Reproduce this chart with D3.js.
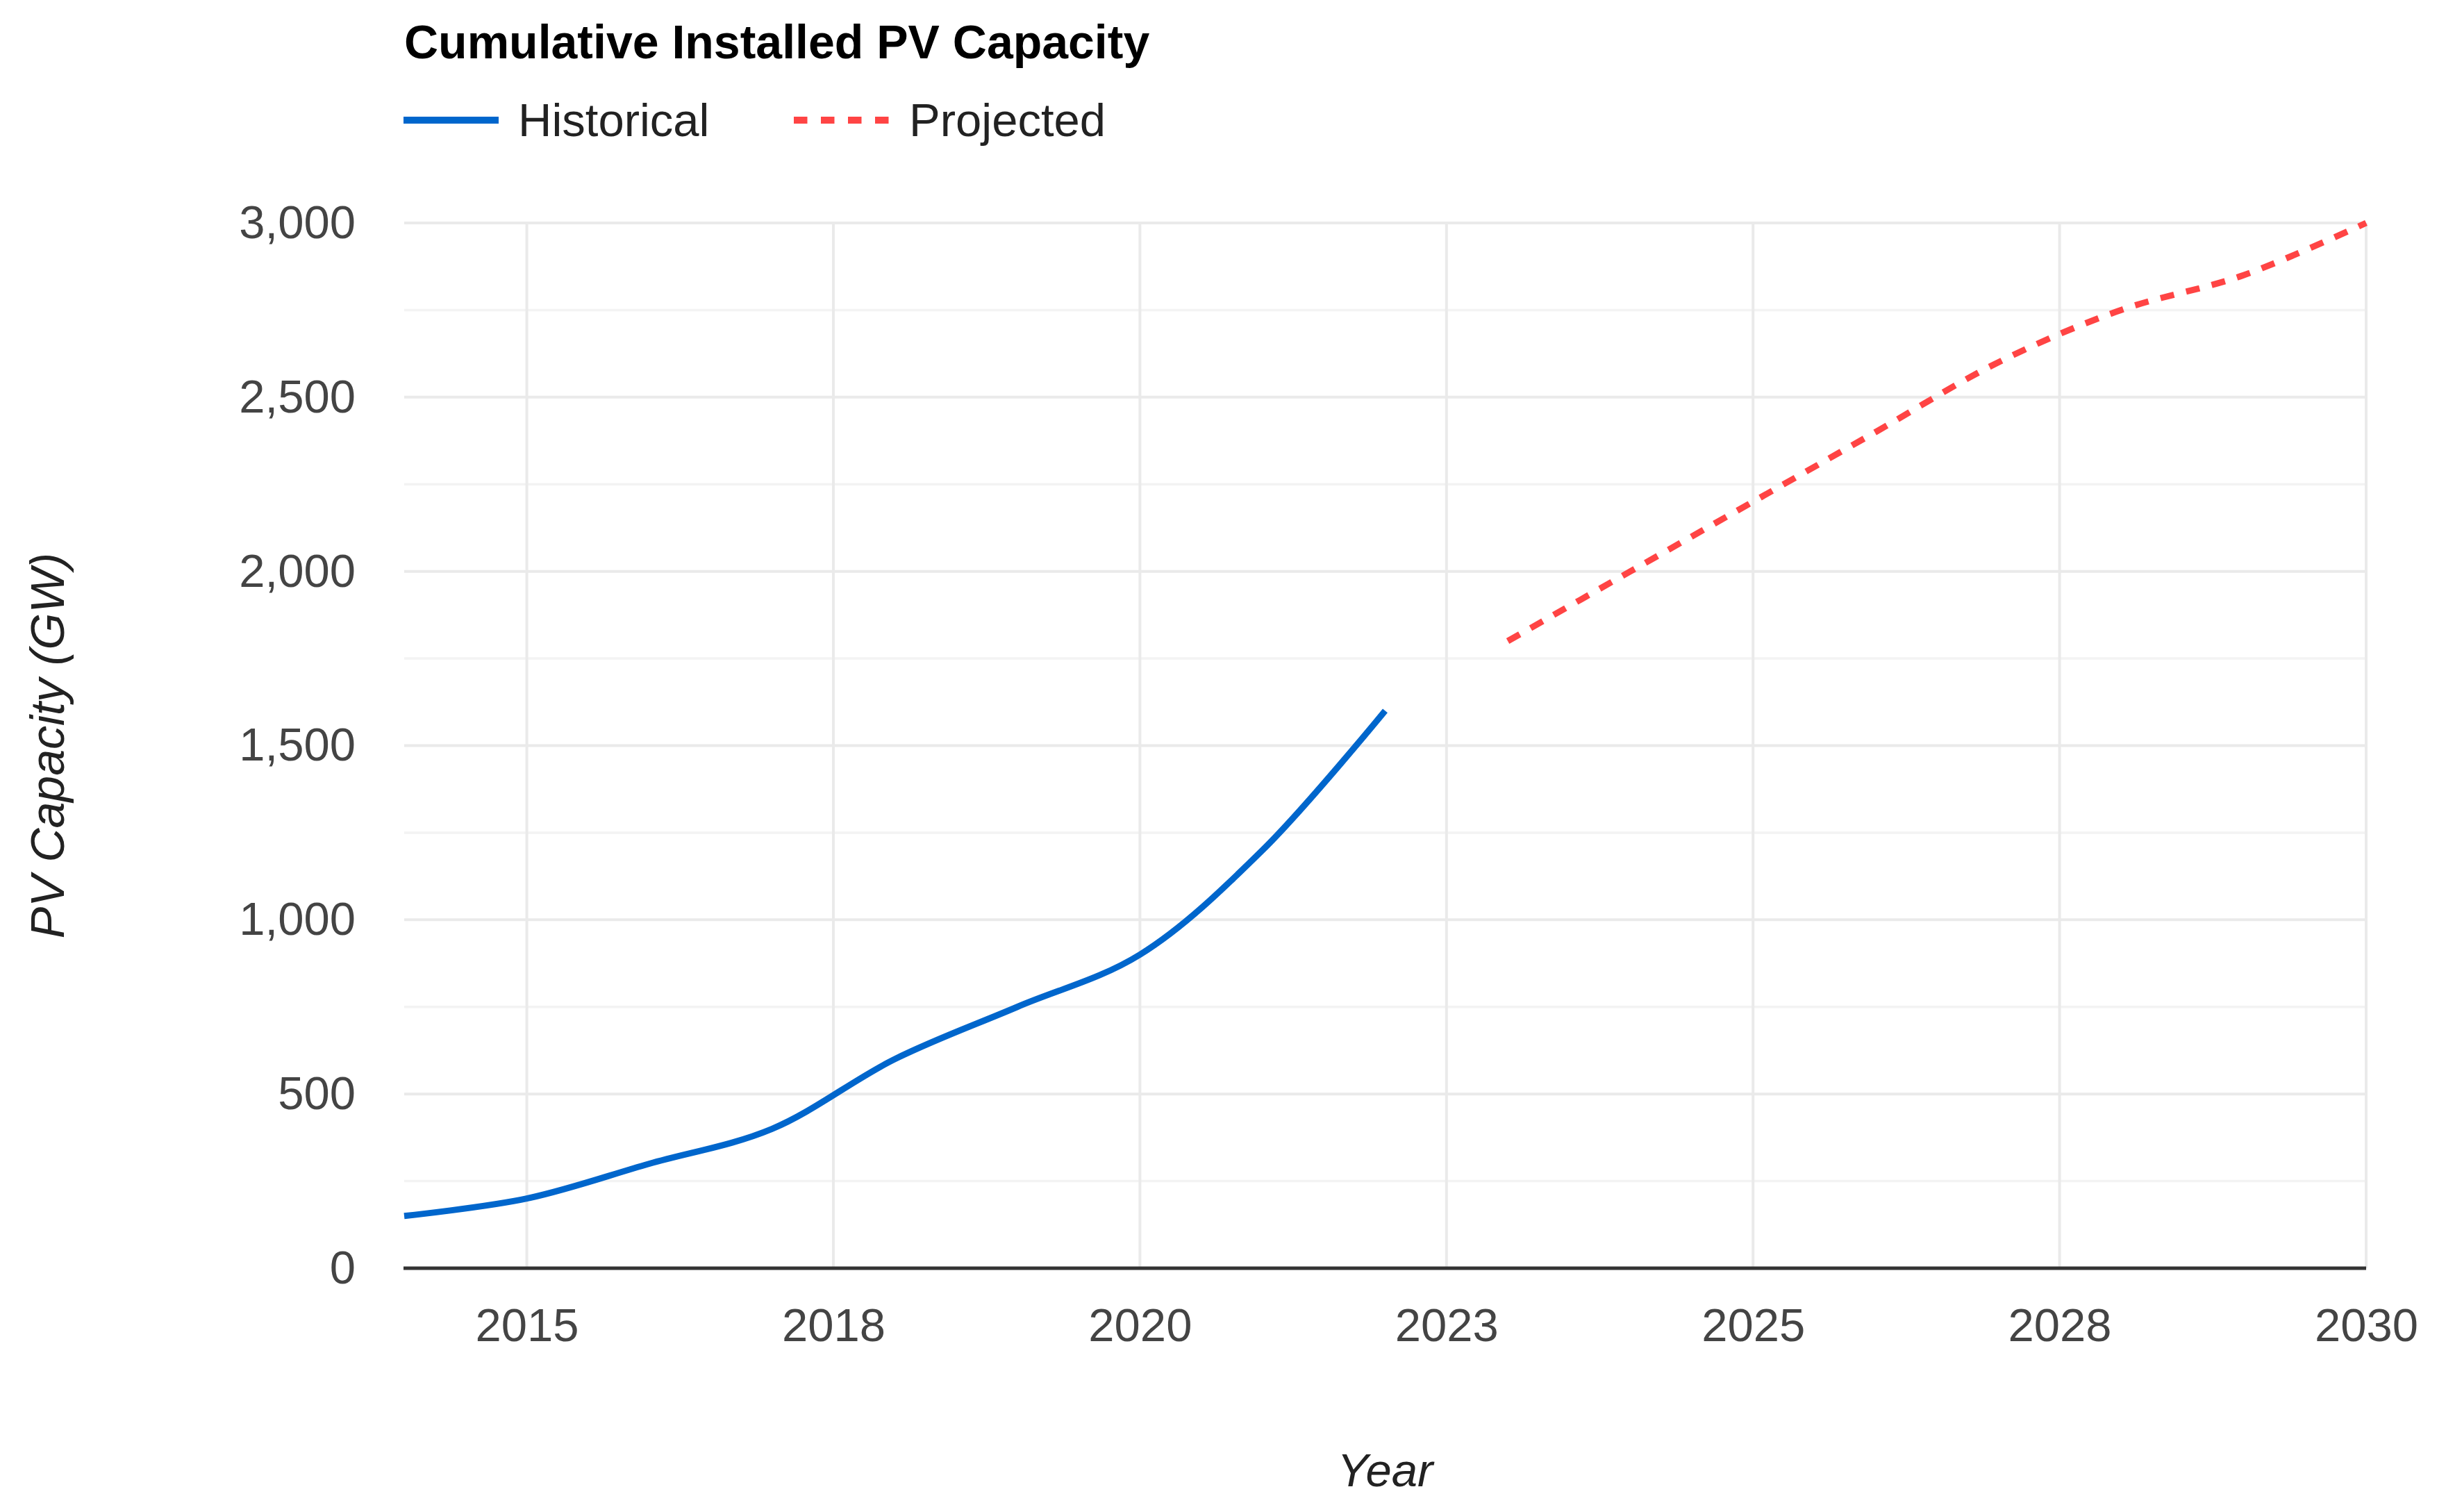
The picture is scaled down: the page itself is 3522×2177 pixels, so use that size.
<!DOCTYPE html>
<html>
<head>
<meta charset="utf-8">
<script src="https://cdn.jsdelivr.net/npm/d3@7/dist/d3.min.js"></script>
<style>
  html, body { margin: 0; padding: 0; background: #ffffff; }
  svg { display: block; font-family: Arial, "Liberation Sans", sans-serif; }
</style>
</head>
<body>
<svg id="chart" width="3522" height="2177"></svg>
<script>
// ---- data ----
const histYears = [2014, 2015, 2016, 2017, 2018, 2019, 2020, 2021, 2022];
const histValues = [150, 200, 300, 400, 600, 750, 900, 1200, 1600];
const projYears = [2023, 2024, 2025, 2026, 2027, 2028, 2029, 2030];
const projValues = [1800, 2000, 2200, 2400, 2600, 2750, 2850, 3000];
const seriesNames = ["Historical", "Projected"];
const xTickValues = [2015, 2017.5, 2020, 2022.5, 2025, 2027.5, 2030];
const xTickLabels = ["2015", "2018", "2020", "2023", "2025", "2028", "2030"];
const yTickValues = [0, 500, 1000, 1500, 2000, 2500, 3000];
const yMinorValues = [250, 750, 1250, 1750, 2250, 2750];
const chartTitle = "Cumulative Installed PV Capacity";
const xTitle = "Year";
const yTitle = "PV Capacity (GW)";

// ---- layout / style ----
const plot = { left: 582, right: 3407, top: 321, bottom: 1826 };
const colors = { hist: "#0066cc", proj: "#ff4444" };

const svg = d3.select("#chart");
const x = d3.scaleLinear().domain([2014, 2030]).range([plot.left, plot.right]);
const y = d3.scaleLinear().domain([0, 3000]).range([plot.bottom, plot.top]);

// minor horizontal gridlines
svg.append("g").selectAll("line").data(yMinorValues).join("line")
  .attr("x1", plot.left).attr("x2", plot.right)
  .attr("y1", d => y(d)).attr("y2", d => y(d))
  .attr("stroke", "#f3f3f3").attr("stroke-width", 3.5);

// major horizontal gridlines
svg.append("g").selectAll("line").data(yTickValues.filter(d => d > 0)).join("line")
  .attr("x1", plot.left).attr("x2", plot.right)
  .attr("y1", d => y(d)).attr("y2", d => y(d))
  .attr("stroke", "#eaeaea").attr("stroke-width", 4);

// vertical gridlines
svg.append("g").selectAll("line").data(xTickValues).join("line")
  .attr("x1", d => x(d)).attr("x2", d => x(d))
  .attr("y1", plot.top).attr("y2", plot.bottom)
  .attr("stroke", "#eaeaea").attr("stroke-width", 4);

// y axis labels
const yAxis = d3.axisLeft(y).tickValues(yTickValues).tickSize(0).tickPadding(70)
  .tickFormat(d3.format(","));
const gy = svg.append("g").attr("transform", `translate(${plot.left},0)`).call(yAxis);
gy.select(".domain").remove();
gy.selectAll("text").attr("font-size", 67).attr("fill", "#444")
  .attr("font-family", "Arial, 'Liberation Sans', sans-serif");

// x axis labels
const xAxis = d3.axisBottom(x).tickValues(xTickValues).tickSize(0).tickPadding(0)
  .tickFormat((d, i) => xTickLabels[i]);
const gx = svg.append("g").attr("transform", `translate(0,${plot.bottom})`).call(xAxis);
gx.select(".domain").remove();
gx.selectAll("text").attr("font-size", 67).attr("fill", "#444")
  .attr("dy", null).attr("y", 105)
  .attr("font-family", "Arial, 'Liberation Sans', sans-serif");

// baseline
svg.append("line")
  .attr("x1", plot.left - 1).attr("x2", plot.right)
  .attr("y1", y(0)).attr("y2", y(0))
  .attr("stroke", "#333").attr("stroke-width", 5);

// lines
const histData = histYears.map((yr, i) => [yr, histValues[i]]);
const projData = projYears.map((yr, i) => [yr, projValues[i]]);
const line = d3.line().x(d => x(d[0])).y(d => y(d[1])).curve(d3.curveCatmullRom.alpha(0.5));

svg.append("path").datum(histData).attr("d", line)
  .attr("fill", "none").attr("stroke", colors.hist).attr("stroke-width", 9)
  .attr("stroke-linejoin", "round");
svg.append("path").datum(projData).attr("d", line)
  .attr("fill", "none").attr("stroke", colors.proj).attr("stroke-width", 9)
  .attr("stroke-dasharray", "20,18");

// title
svg.append("text").attr("x", 582).attr("y", 84)
  .attr("font-size", 68).attr("font-weight", "bold").attr("fill", "#000")
  .text(chartTitle);

// legend
const legend = svg.append("g");
legend.append("line").attr("x1", 581).attr("x2", 718).attr("y1", 173).attr("y2", 173)
  .attr("stroke", colors.hist).attr("stroke-width", 10);
legend.append("text").attr("x", 746).attr("y", 196).attr("font-size", 67).attr("fill", "#222")
  .text(seriesNames[0]);
legend.append("line").attr("x1", 1143).attr("x2", 1282).attr("y1", 173).attr("y2", 173)
  .attr("stroke", colors.proj).attr("stroke-width", 10).attr("stroke-dasharray", "19.5,19.5");
legend.append("text").attr("x", 1309).attr("y", 196).attr("font-size", 67).attr("fill", "#222")
  .text(seriesNames[1]);

// axis titles
svg.append("text").attr("x", (plot.left + plot.right) / 2).attr("y", 2140)
  .attr("text-anchor", "middle").attr("font-size", 67).attr("font-style", "italic")
  .attr("fill", "#222").text(xTitle);
svg.append("text")
  .attr("transform", `translate(92,${(plot.top + plot.bottom) / 2}) rotate(-90)`)
  .attr("text-anchor", "middle").attr("font-size", 68).attr("font-style", "italic")
  .attr("fill", "#222").text(yTitle);
</script>
</body>
</html>
